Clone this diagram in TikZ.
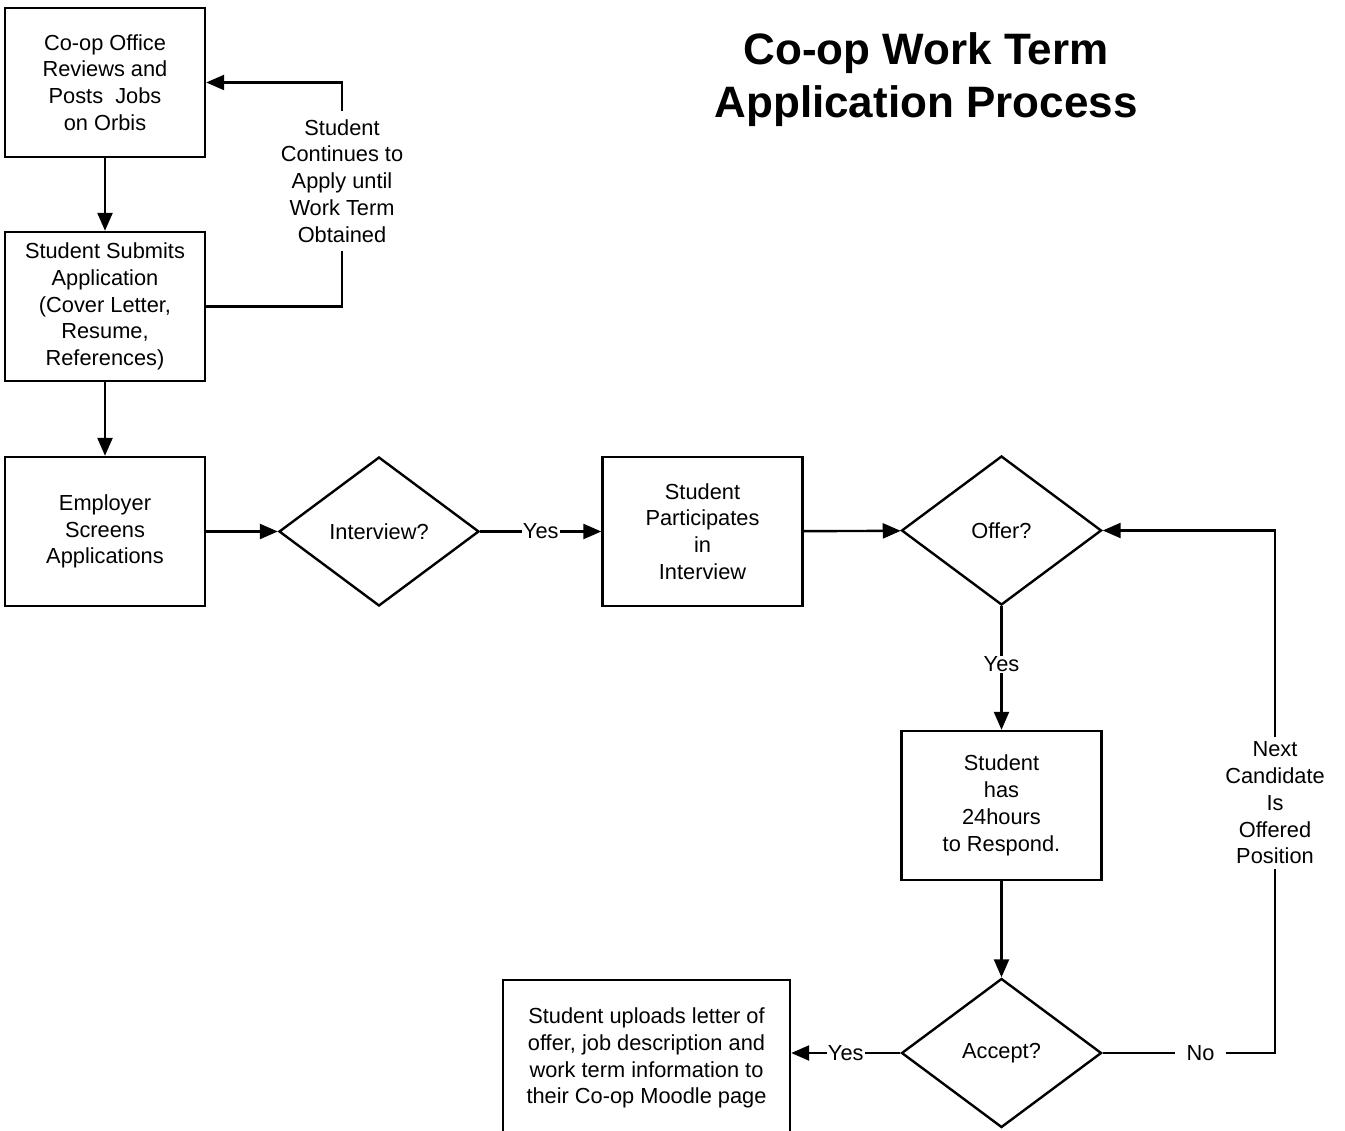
\documentclass[tikz,border=0pt]{standalone}
\usepackage{fontspec}
\setmainfont{Liberation Sans}
\usetikzlibrary{shapes.geometric,arrows.meta}
\begin{document}
\begin{tikzpicture}[x=1pt,y=-1pt,
  every node/.style={font=\fontsize{21.8}{26.8}\selectfont, align=center},
  stepbox/.style={draw, line width=2.4pt, minimum width=200pt, minimum height=149pt, inner sep=0pt},
  decide/.style={draw, diamond, line width=2.4pt, minimum width=200pt, minimum height=149pt, inner sep=0pt},
  conn/.style={line width=2.4pt},
  arr/.style={conn, -{Triangle[length=18pt,width=15pt]}},
  lbl/.style={fill=white, inner sep=1pt},
  side/.style={inner xsep=2pt, inner ysep=8pt}
]
\useasboundingbox (0,0) rectangle (1345,1131);
\fill[white] (0,0) rectangle (1345,1131);

\node[font=\fontsize{44}{53}\selectfont\bfseries] (title) at (926,80) {Co-op Work Term\\Application Process};

\node[stepbox] (b1) at (105,82.5) {Co-op Office\\Reviews and\\Posts\ \ Jobs\\on Orbis};
\node[stepbox] (b2) at (105,306.5) {Student Submits\\Application\\(Cover Letter,\\Resume,\\References)};
\node[stepbox] (b3) at (105,531.5) {Employer\\Screens\\Applications};
\node[decide] (int) at (379,531.5) {Interview?};
\node[stepbox] (part) at (702.5,531.5) {Student\\Participates\\in\\Interview};
\node[decide] (off) at (1001.5,530.5) {Offer?};
\node[stepbox] (resp) at (1001.5,805.5) {Student\\has\\24hours\\to Respond.};
\node[decide] (acc) at (1001.5,1053) {Accept?};
\node[stepbox, minimum width=287pt, minimum height=156pt] (up) at (646.5,1058) {Student uploads letter of\\offer, job description and\\work term information to\\their Co-op Moodle page};

\node[side] (cont) at (342,181) {Student\\Continues to\\Apply until\\Work Term\\Obtained};
\node[inner xsep=11pt] (no) at (1200.5,1053) {No};
\node[side, inner ysep=5pt] (next) at (1275,803) {Next\\Candidate\\Is\\Offered\\Position};

\draw[arr] (b1) -- (b2);
\draw[arr] (b2) -- (b3);
\draw[arr] (b3) -- (int);
\draw[arr] (int) -- node[lbl]{Yes} (part);
\draw[arr] (part) -- (off);
\draw[arr] (off) -- node[lbl, pos=0.47]{Yes} (resp);
\draw[arr] (resp) -- (acc);
\draw[arr] (acc.west) -- node[lbl]{Yes} (acc.west -| up.east);

\draw[conn] (b2.east) -| (cont.south);
\draw[arr] (cont.north) |- (b1.east);

\draw[conn] (acc.east) -- (no.west);
\draw[conn] (no.east) -| (next.south);
\draw[arr] (next.north) |- (off.east);
\end{tikzpicture}
\end{document}
